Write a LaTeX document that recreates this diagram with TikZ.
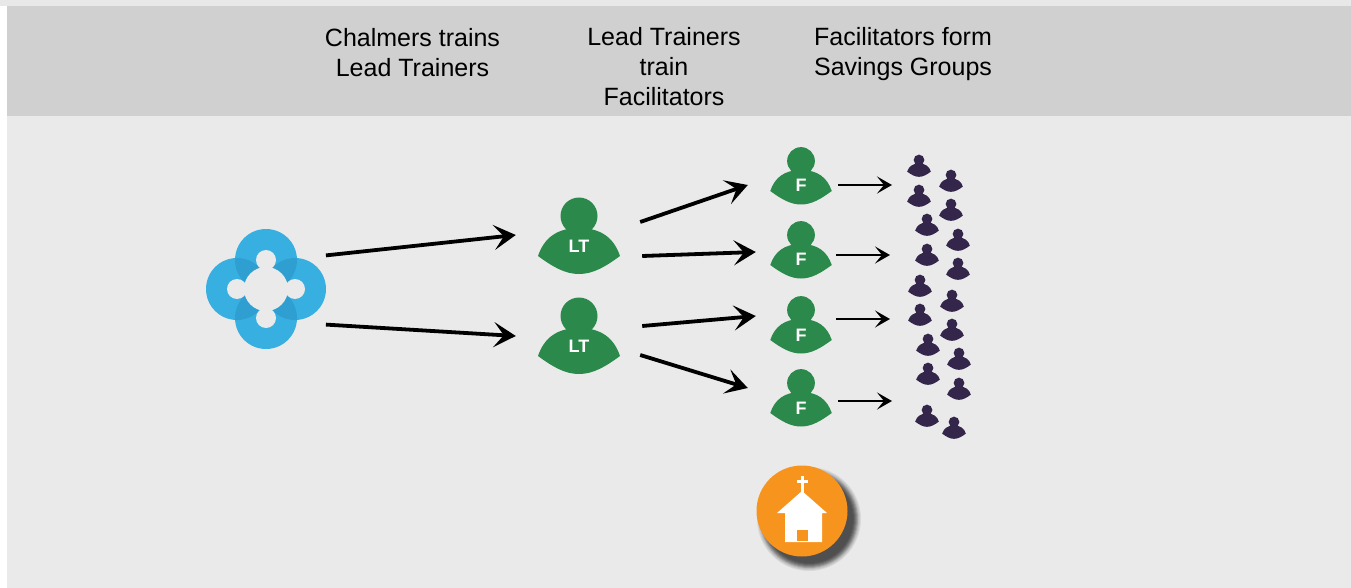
\documentclass[tikz,border=0pt]{standalone}
\usepackage{fontspec}
\setmainfont{Liberation Sans}
\usepackage{xcolor}
\usetikzlibrary{arrows.meta}
\definecolor{pagegray}{HTML}{EAEAEA}
\definecolor{bandgray}{HTML}{D0D0D0}
\definecolor{edgegray}{HTML}{E8E8E8}
\definecolor{hubblue}{HTML}{38AFE1}
\definecolor{hubdark}{HTML}{2F9FD1}
\definecolor{persongreen}{HTML}{2B8A4B}
\definecolor{memberpurple}{HTML}{33264A}
\definecolor{churchorange}{HTML}{F7941E}
\tikzset{
    person/.pic={
        \fill[pic actions] (-41,40) .. controls (-35,22) and (-22,12) .. (0,12) .. controls (22,12) and (35,22) .. (41,40) .. controls (26,51) and (14,58) .. (0,58) .. controls (-14,58) and (-26,51) .. (-41,40) -- cycle;
        \fill[pic actions] (0,0) circle (18.5);
    },
    bandtext/.style={align=center, text=black, font=\fontsize{25}{30}\selectfont},
    ltnode/.style={minimum width=126pt, inner sep=0pt, text=white, font=\fontsize{18}{18}\selectfont\bfseries},
    fnode/.style={minimum width=90pt, inner sep=0pt, text=white, font=\fontsize{18}{18}\selectfont\bfseries},
    bigarrow/.style={-{Stealth[length=22pt, width=25pt, inset=10pt]}, line width=3.8pt, black},
    smallarrow/.style={-{Stealth[length=15pt, width=17pt, inset=7pt]}, line width=2.4pt, black}
}
\begin{document}
\begin{tikzpicture}[x=1pt, y=-1pt]
    \useasboundingbox (0,0) rectangle (1351,588);
    \fill[edgegray] (0,0) rectangle (1351,6);
    \fill[pagegray] (7,6) rectangle (1351,588);
    \fill[bandgray] (7,6) rectangle (1351,116);

    \node[bandtext] (chalmerstext) at (412.5,53) {Chalmers trains\\Lead Trainers};
    \node[bandtext] (leadtext) at (664,67) {Lead Trainers\\train\\Facilitators};
    \node[bandtext] (factext) at (903,54) {Facilitators form\\Savings Groups};

    \foreach \a in {0,90,180,270} {
        \fill[hubblue] (266,289) ++(\a:29) circle (31);
    }
    \foreach \a in {0,90,180,270} {
        \begin{scope}
            \clip (266,289) ++(\a:29) circle (31);
            \fill[hubdark] (266,289) ++(\a+90:29) circle (31);
        \end{scope}
    }
    \fill[pagegray] (266,289) circle (22);
    \foreach \a in {0,90,180,270} {
        \fill[pagegray] (266,289) ++(\a:29) circle (10);
    }
    \node[circle, minimum size=138pt, inner sep=0pt] (hub) at (266,290) {};

    \pic[persongreen] at (579,216) {person};
    \pic[persongreen] at (579,316) {person};
    \node[ltnode] (lt1) at (579,246) {LT};
    \node[ltnode] (lt2) at (579,346) {LT};

    \foreach \n/\y in {1/161, 2/235, 3/310, 4/383} {
        \pic[persongreen, scale=0.75] at (801,\y) {person};
    }
    \node[fnode] (f1) at (801,185) {F};
    \node[fnode] (f2) at (801,259) {F};
    \node[fnode] (f3) at (801,335) {F};
    \node[fnode] (f4) at (801,408) {F};

    \foreach \x/\y in {919/160, 951/175, 919/190, 951/204, 927/219, 958/234, 927/249, 958/263, 920/280, 952/295, 920/309, 952/324, 928/339, 959/353, 928/368, 959/383, 927/410, 954/422} {
        \pic[memberpurple, scale=0.29] at (\x,\y) {person};
    }

    \coordinate (group1) at (892,185);
    \coordinate (group2) at (890,255);
    \coordinate (group3) at (890,319);
    \coordinate (group4) at (892,401);

    \draw[bigarrow] (hub.30) -- ([yshift=11pt]lt1.west);
    \draw[bigarrow] (hub.-30) -- ([yshift=10pt]lt2.west);
    \draw[bigarrow] ([xshift=-2pt, yshift=24pt]lt1.east) -- ([xshift=-8pt]f1.west);
    \draw[bigarrow] ([yshift=-10pt]lt1.east) -- ([yshift=7pt]f2.west);
    \draw[bigarrow] ([yshift=20pt]lt2.east) -- ([yshift=19pt]f3.west);
    \draw[bigarrow] ([xshift=-2pt, yshift=-9pt]lt2.east) -- ([xshift=-8pt, yshift=20pt]f4.west);

    \draw[smallarrow] ([xshift=-8pt]f1.east) -- (group1);
    \draw[smallarrow] ([xshift=-10pt, yshift=4pt]f2.east) -- (group2);
    \draw[smallarrow] ([xshift=-10pt, yshift=16pt]f3.east) -- (group3);
    \draw[smallarrow] ([xshift=-8pt, yshift=7pt]f4.east) -- (group4);

    \foreach \r in {44,45,...,52,45,46,47,48,49} {
        \fill[black, opacity=0.07] (809,519) circle (\r);
    }
    \node[circle, fill=churchorange, minimum size=91pt, inner sep=0pt] (church) at (802,511) {};
    \fill[white] (802,491) -- (827,513) -- (822,513) -- (822,542) -- (785,542) -- (785,513) -- (777,513) -- cycle;
    \fill[white] (801,476) rectangle (804,493);
    \fill[white] (797,479.5) rectangle (808,482.5);
    \fill[churchorange] (797,530) rectangle (808,541);
\end{tikzpicture}
\end{document}
